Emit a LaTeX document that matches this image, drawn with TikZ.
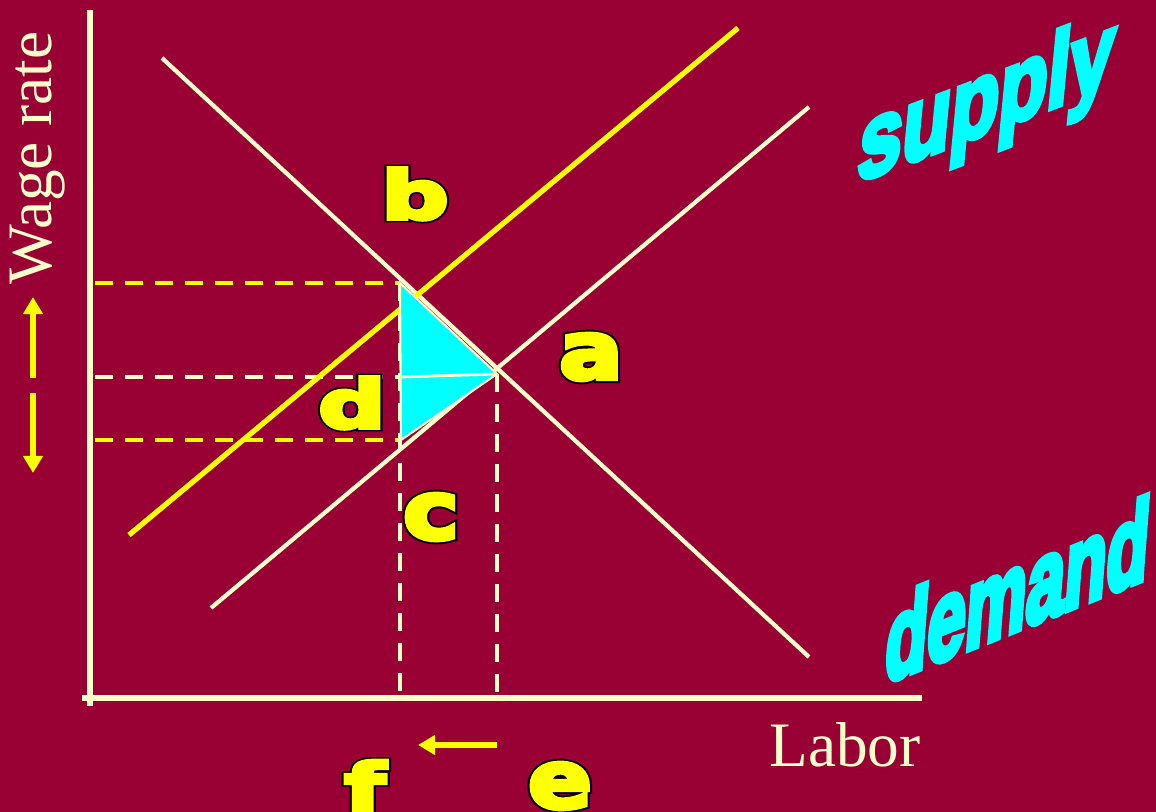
\documentclass[tikz,border=0pt]{standalone}
\usepackage{fontspec}
\setmainfont{Liberation Serif}
\setsansfont{Liberation Sans}
\newfontfamily\heavyfont{DejaVu Sans}
\usetikzlibrary{arrows.meta}
\definecolor{wine}{HTML}{990033}
\definecolor{cream}{HTML}{FFFFCC}
\definecolor{lemon}{HTML}{FFFF00}
\definecolor{aqua}{HTML}{00FFFF}
\newcommand\outlined[1]{\special{pdf:literal direct 0 G 0 g 2.0 w 2 Tr}\rlap{#1}\special{pdf:literal direct 1 1 0 RG 1 1 0 rg 1.1 w 2 Tr}#1\special{pdf:literal direct 0 Tr}}
\newcommand\fatten[1]{\special{pdf:literal direct 1.2 w 2 Tr}#1\special{pdf:literal direct 0 Tr}}

\begin{document}
\begin{tikzpicture}[
  x=0.01cm, y=-0.01cm,
  axis/.style={draw=cream, line width=1.7pt},
  curve/.style={draw=cream, line width=1.2pt},
  shifted/.style={draw=lemon, line width=1.5pt},
  guide/.style={line width=1.1pt, dash pattern=on 0.18cm off 0.12cm},
  letter/.style={font=\heavyfont\bfseries\fontsize{19}{19}\selectfont, text=lemon, inner sep=0pt, xscale=1.4},
  tag/.style={font=\fontsize{18}{18}\selectfont, text=cream, inner sep=0pt},
  move/.style={draw=lemon, line width=1.7pt, -{Triangle[width=0.19cm, length=0.17cm]}},
]
  \fill[wine] (0,0) rectangle (1156,812);
  \useasboundingbox (0,0) rectangle (1156,812);

  \coordinate (ytop) at (90,10);
  \coordinate (ybot) at (90,706);
  \coordinate (xleft) at (82,698);
  \coordinate (xright) at (922,698);
  \coordinate (D1) at (162,58);
  \coordinate (D2) at (809,657);
  \coordinate (S1) at (211,608);
  \coordinate (S2) at (809,107);
  \coordinate (N1) at (129,535);
  \coordinate (N2) at (738,28);
  \coordinate (p) at (400,283);
  \coordinate (m) at (400,377);
  \coordinate (q) at (401,440);
  \coordinate (eq) at (497,374);
  \coordinate (pl) at (95,283);
  \coordinate (ml) at (95,377);
  \coordinate (ql) at (95,440);
  \coordinate (fx) at (400,698);
  \coordinate (ex) at (497,698);

  % guide lines
  \draw[guide, lemon] (pl) -- (p);
  \draw[guide, cream] (ml) -- (m);
  \draw[guide, lemon] (ql) -- (q);
  \draw[guide, cream] (p) -- (fx);
  \draw[guide, cream] (eq) -- (ex);

  % axes
  \draw[axis] (ytop) -- (ybot);
  \draw[axis] (xleft) -- (xright);

  % demand and supply
  \draw[curve] (D1) -- (D2);
  \draw[curve] (S1) -- (S2);
  \draw[shifted] (N1) -- (N2);

  % loss triangle
  \filldraw[fill=aqua, draw=cream, line width=0.6pt] (p) -- (eq) -- (q) -- cycle;
  \draw[cream, line width=0.8pt] (m) -- (eq);

  \node[letter] (b) at (415,194) {\outlined{b}};
  \node[letter, yscale=1.2] (a) at (591,357) {\outlined{a}};
  \node[letter] (d) at (352,403) {\outlined{d}};
  \node[letter, yscale=1.2] (c) at (431,517) {\outlined{c}};
  \node[letter, yscale=1.2] (e) at (560,786) {\outlined{e}};
  \node[letter] (f) at (365,786) {\outlined{f}};

  \node[tag, rotate=90] (wage) at (38,158) {Wage rate};
  \node[tag] (labor) at (845,745) {Labor};

  \coordinate (u0) at (33,378);
  \coordinate (u1) at (33,297);
  \coordinate (w0) at (33,393);
  \coordinate (w1) at (33,473);
  \coordinate (h0) at (497,745);
  \coordinate (h1) at (418,745);
  \draw[move] (u0) -- (u1);
  \draw[move] (w0) -- (w1);
  \draw[move] (h0) -- (h1);

  \node[font=\sffamily\bfseries\fontsize{22.5}{22.5}\selectfont, text=aqua, inner sep=0pt,
    yslant=0.38, xslant=0.1, yscale=1.32] (supply) at (986,106) {\fatten{supply}};
  \node[font=\sffamily\bfseries\fontsize{19.5}{19.5}\selectfont, text=aqua, inner sep=0pt,
    yslant=0.4, xslant=0.08, yscale=1.65] (demand) at (1018,589) {\fatten{demand}};
\end{tikzpicture}
\end{document}
